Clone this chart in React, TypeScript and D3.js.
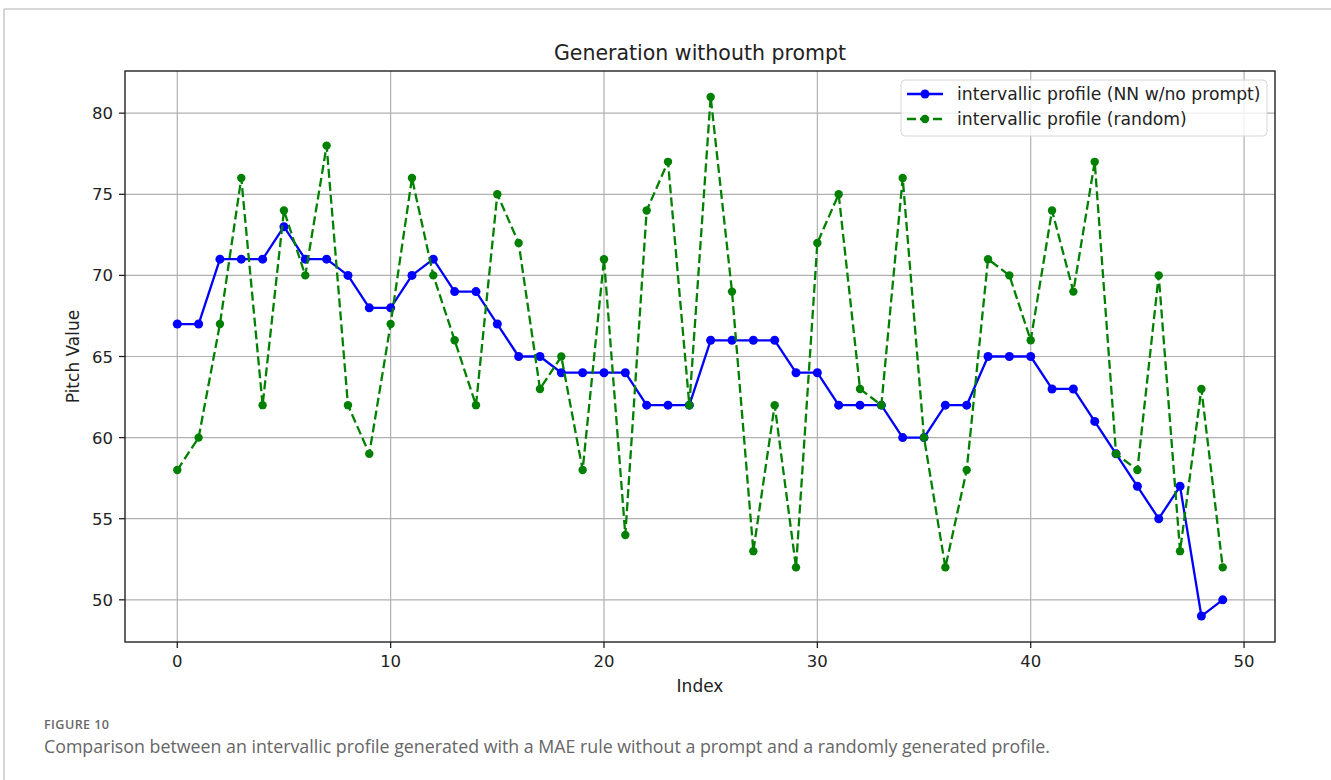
import React from 'react';
import * as d3 from 'd3';

// values
const indexes = d3.range(0, 50);
const nnProfile = [67, 67, 71, 71, 71, 73, 71, 71, 70, 68, 68, 70, 71, 69, 69, 67, 65, 65, 64, 64,
  64, 64, 62, 62, 62, 66, 66, 66, 66, 64, 64, 62, 62, 62, 60, 60, 62, 62, 65, 65,
  65, 63, 63, 61, 59, 57, 55, 57, 49, 50];
const randomProfile = [58, 60, 67, 76, 62, 74, 70, 78, 62, 59, 67, 76, 70, 66, 62, 75, 72, 63, 65, 58,
  71, 54, 74, 77, 62, 81, 69, 53, 62, 52, 72, 75, 63, 62, 76, 60, 52, 58, 71, 70,
  66, 74, 69, 77, 59, 58, 70, 53, 63, 52];
const xTicks = [0, 10, 20, 30, 40, 50];
const yTicks = [50, 55, 60, 65, 70, 75, 80];
const seriesNames = ['intervallic profile (NN w/no prompt)', 'intervallic profile (random)'];

const W = 1331;
const H = 780;
const plot = { left: 125, right: 1275, top: 71, bottom: 642 };
const mpl = 'DejaVu Sans, sans-serif';
const captionFont = 'Open Sans, Noto Sans, sans-serif';

export default function App() {
  const x = d3.scaleLinear().domain([-2.45, 51.45]).range([plot.left, plot.right]);
  const y = d3.scaleLinear().domain([47.4, 82.6]).range([plot.bottom, plot.top]);

  const line = d3.line<number>()
    .x((_, i) => x(indexes[i]))
    .y((d) => y(d));

  const series = [
    { name: seriesNames[0], values: nnProfile, color: '#0000ff', dash: undefined as string | undefined, r: 4.5 },
    { name: seriesNames[1], values: randomProfile, color: '#008000', dash: '9,4', r: 4.2 },
  ];

  const legX = 901;
  const legY = 80;

  return (
    <svg width={W} height={H} style={{ position: 'absolute', left: 0, top: 0, background: '#fff' }}>
      {/* card border */}
      <line x1={4} y1={9} x2={W} y2={9} stroke='#c8c8c8' strokeWidth={1.5} />
      <line x1={4} y1={9} x2={4} y2={H} stroke='#c8c8c8' strokeWidth={1.5} />

      {/* grid */}
      <g stroke='#b0b0b0' strokeWidth={1.2}>
        {xTicks.map((t) => (
          <line key={'gx' + t} x1={x(t)} x2={x(t)} y1={plot.top} y2={plot.bottom} />
        ))}
        {yTicks.map((t) => (
          <line key={'gy' + t} x1={plot.left} x2={plot.right} y1={y(t)} y2={y(t)} />
        ))}
      </g>

      {/* series */}
      {series.map((s) => (
        <g key={s.name}>
          <path d={line(s.values) || ''} fill='none' stroke={s.color} strokeWidth={2.3}
            strokeDasharray={s.dash} strokeLinejoin='round' />
          {s.values.map((v, i) => (
            <circle key={i} cx={x(indexes[i])} cy={y(v)} r={s.r} fill={s.color} />
          ))}
        </g>
      ))}

      {/* frame */}
      <rect x={plot.left} y={plot.top} width={plot.right - plot.left} height={plot.bottom - plot.top}
        fill='none' stroke='#222' strokeWidth={1.4} />

      {/* x ticks */}
      {xTicks.map((t) => (
        <g key={'xt' + t}>
          <line x1={x(t)} x2={x(t)} y1={plot.bottom} y2={plot.bottom + 6} stroke='#222' strokeWidth={1.3} />
          <text x={x(t)} y={plot.bottom + 25} textAnchor='middle' fontFamily={mpl} fontSize={16.5} fill='#222'>{t}</text>
        </g>
      ))}
      {/* y ticks */}
      {yTicks.map((t) => (
        <g key={'yt' + t}>
          <line x1={plot.left - 6} x2={plot.left} y1={y(t)} y2={y(t)} stroke='#222' strokeWidth={1.3} />
          <text x={plot.left - 12} y={y(t) + 6} textAnchor='end' fontFamily={mpl} fontSize={16.5} fill='#222'>{t}</text>
        </g>
      ))}

      <text x={(plot.left + plot.right) / 2} y={60} textAnchor='middle' fontFamily={mpl} fontSize={20.5} fill='#222'>
        Generation withouth prompt
      </text>
      <text x={(plot.left + plot.right) / 2} y={692} textAnchor='middle' fontFamily={mpl} fontSize={17} fill='#222'>
        Index
      </text>
      <text transform={`translate(79, ${(plot.top + plot.bottom) / 2}) rotate(-90)`} textAnchor='middle'
        fontFamily={mpl} fontSize={17} fill='#222'>
        Pitch Value
      </text>

      {/* legend */}
      <rect x={legX} y={legY} width={366} height={56} rx={4} fill='#fff' fillOpacity={0.8}
        stroke='#d6d6d6' strokeWidth={1} />
      {series.map((s, i) => {
        const ly = legY + 14 + i * 25;
        return (
          <g key={'leg' + s.name}>
            <line x1={legX + 6} x2={legX + 42} y1={ly} y2={ly} stroke={s.color} strokeWidth={2.3}
              strokeDasharray={s.dash ? '9,4' : undefined} />
            <circle cx={legX + 24} cy={ly} r={s.r} fill={s.color} />
            <text x={legX + 56} y={ly + 6} fontFamily={mpl} fontSize={17.2} fill='#222'>{s.name}</text>
          </g>
        );
      })}

      {/* caption */}
      <text x={44} y={729} fontFamily={captionFont} fontSize={12.6} fontWeight={600} fill='#6a6a6a'
        letterSpacing={0.4}>FIGURE 10</text>
      <text x={44} y={753} fontFamily={captionFont} fontSize={17.8} fill='#666'>
        Comparison between an intervallic profile generated with a MAE rule without a prompt and a randomly generated profile.
      </text>
    </svg>
  );
}
